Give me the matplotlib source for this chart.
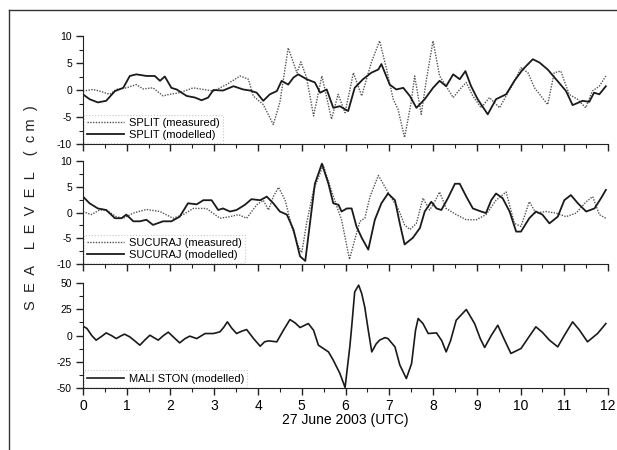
import matplotlib
matplotlib.use("Agg")
import matplotlib.pyplot as plt
from matplotlib.lines import Line2D

plt.rcParams['font.family'] = ['Liberation Sans', 'DejaVu Sans']
plt.rcParams['axes.unicode_minus'] = False

# SPLIT
split_mea_t = [0, 0.23, 0.38, 0.61, 0.76, 0.99, 1.22, 1.37, 1.6, 1.83, 1.98, 2.21, 2.52, 2.75, 2.98,
               3.28, 3.59, 3.78, 3.89, 4.12, 4.35, 4.5, 4.69, 4.89, 4.98, 5.11, 5.27, 5.46, 5.68, 5.83,
               5.99, 6.18, 6.37, 6.59, 6.78, 6.94, 7.09, 7.2, 7.35, 7.5, 7.58, 7.73, 7.85, 8.0, 8.15,
               8.3, 8.46, 8.61, 8.76, 8.91, 9.1, 9.29, 9.52, 9.67, 9.82, 10.01, 10.17, 10.32, 10.62,
               10.77, 10.92, 11.11, 11.3, 11.49, 11.64, 11.8, 11.95]
split_mea = [-0.2, 0.1, -0.2, -0.8, 0.1, 0.4, 1.0, 0.2, 0.4, -1.1, -0.8, -0.5, 0.4, 0.1, -0.2,
             1.0, 2.6, 2.0, -1.1, -2.7, -6.4, -2.3, 7.8, 3.2, 5.2, 2.3, -4.8, 2.6, -5.4, -0.8,
             -4.2, 3.2, -1.1, 5.1, 9.1, 3.8, -1.7, -3.6, -8.8, -2.3, 2.6, -4.5, 2.0, 9.1, 2.6,
             0.7, -1.4, 0.1, 1.4, -1.1, -3.3, -1.4, -3.3, -1.1, 1.0, 4.1, 3.2, 0.4, -2.7,
             3.2, 3.5, -0.8, -1.7, -3.3, -0.2, 0.7, 2.6]
split_mod_t = [0, 0.15, 0.34, 0.53, 0.73, 0.92, 1.07, 1.22, 1.45, 1.64, 1.76, 1.87, 2.02, 2.14, 2.37,
               2.56, 2.71, 2.86, 2.98, 3.2, 3.44, 3.66, 3.82, 3.97, 4.12, 4.27, 4.43, 4.54, 4.69, 4.81,
               4.92, 5.11, 5.3, 5.42, 5.57, 5.72, 5.87, 6.06, 6.21, 6.4, 6.59, 6.75, 6.82, 7.01, 7.16,
               7.32, 7.47, 7.62, 7.81, 8.0, 8.15, 8.3, 8.46, 8.61, 8.74, 8.87, 9.02, 9.25, 9.44, 9.67,
               9.86, 10.05, 10.28, 10.43, 10.62, 10.81, 11.04, 11.19, 11.42, 11.57, 11.68, 11.8, 11.95]
split_mod = [-0.8, -1.7, -2.3, -2.0, -0.2, 0.4, 2.6, 2.9, 2.6, 2.6, 1.7, 2.5, 0.4, 0.1, -1.1,
             -1.4, -1.9, -1.4, 0.0, -0.1, 0.7, 0.1, -0.1, -0.5, -2.0, -0.8, -0.2, 1.7, 1.0, 2.3,
             2.9, 2.0, 1.4, -0.5, 0.1, -3.3, -3.0, -3.9, 0.4, 2.0, 3.2, 3.8, 4.8, 1.0, 0.1,
             0.4, -1.1, -3.3, -1.7, 0.4, 1.7, 0.7, 2.9, 2.0, 3.5, 0.7, -1.7, -4.5, -1.7, -0.8,
             1.7, 3.8, 5.7, 5.1, 3.8, 2.0, -0.2, -2.8, -2.0, -2.2, -0.5, -0.8, 0.7]

# SUCURAJ
suc_mea_t = [0, 0.19, 0.38, 0.53, 0.76, 0.92, 1.15, 1.45, 1.76, 2.06, 2.29, 2.52, 2.82, 3.13, 3.36,
             3.55, 3.74, 3.97, 4.12, 4.24, 4.35, 4.47, 4.62, 4.77, 4.92, 5.0, 5.11, 5.27, 5.49, 5.65,
             5.8, 5.91, 6.09, 6.21, 6.33, 6.44, 6.56, 6.75, 6.9, 7.05, 7.2, 7.35, 7.47, 7.62, 7.77,
             7.92, 8.0, 8.15, 8.3, 8.53, 8.76, 8.99, 9.21, 9.44, 9.67, 9.86, 10.01, 10.2, 10.35,
             10.58, 10.81, 11.04, 11.27, 11.5, 11.65, 11.8, 11.95]
suc_mea = [0.2, -0.4, 0.5, 0.5, -0.8, -1.1, -0.1, 0.6, 0.2, -1.1, -0.4, 0.8, 0.8, -1.1, -0.8,
           -0.4, -1.1, 1.5, 2.4, 0.5, 3.1, 4.9, 2.4, -2.7, -6.5, -7.8, -2.1, 4.4, 9.2, 5.0,
           1.2, -1.4, -9.1, -5.3, -1.7, -1.1, 3.1, 7.2, 5.0, 2.8, 0.8, -2.4, -3.3, -2.1, 2.8,
           0.5, 1.5, 4.0, 0.8, -0.4, -1.4, -1.4, -0.4, 2.4, 4.0, -2.1, -2.7, 2.1, -0.1,
           0.2, -0.1, -0.8, -0.1, 2.1, 3.1, -0.4, -1.1]
suc_mod_t = [0, 0.15, 0.34, 0.53, 0.73, 0.88, 0.99, 1.15, 1.3, 1.45, 1.6, 1.83, 2.02, 2.21, 2.4,
             2.6, 2.75, 2.94, 3.09, 3.2, 3.36, 3.51, 3.7, 3.85, 4.05, 4.2, 4.35, 4.5, 4.66, 4.81,
             4.96, 5.08, 5.3, 5.46, 5.61, 5.72, 5.84, 5.91, 6.03, 6.14, 6.25, 6.37, 6.52, 6.67, 6.82,
             6.97, 7.13, 7.24, 7.35, 7.54, 7.7, 7.81, 7.96, 8.08, 8.19, 8.34, 8.5, 8.61, 8.76, 8.91,
             9.1, 9.21, 9.33, 9.44, 9.59, 9.75, 9.9, 10.01, 10.2, 10.35, 10.5, 10.66, 10.85, 11.0,
             11.15, 11.31, 11.5, 11.69, 11.84, 11.95]
suc_mod = [3.1, 1.8, 0.8, 0.5, -1.1, -1.1, -0.4, -1.7, -1.7, -1.4, -2.4, -1.7, -1.7, -0.8, 1.8,
           1.6, 2.4, 2.4, 0.5, 0.8, 0.2, 0.5, 1.5, 2.6, 2.4, 3.1, 1.8, 0.2, -0.4, -3.3,
           -8.5, -9.4, 5.6, 9.5, 5.6, 1.8, 1.5, 0.2, 0.8, 0.8, -2.7, -4.9, -7.2, -1.4, 1.8,
           3.7, 2.4, -2.1, -6.2, -4.9, -3.0, 0.2, 2.1, 0.8, 0.5, 2.8, 5.6, 5.6, 3.1, 0.8,
           0.2, -0.1, 2.4, 3.7, 2.8, 0.2, -3.7, -3.7, -1.1, 0.2, -0.4, -2.1, -0.8, 2.4,
           3.4, 1.8, 0.2, 0.8, 2.8, 4.4]

# MALI STON
ston_t = [0, 0.09, 0.2, 0.3, 0.42, 0.53, 0.65, 0.76, 0.86, 0.95, 1.07, 1.18, 1.3, 1.42, 1.53,
          1.62, 1.72, 1.84, 1.95, 2.08, 2.21, 2.33, 2.44, 2.6, 2.79, 2.98, 3.13, 3.22, 3.3, 3.4,
          3.51, 3.62, 3.74, 3.9, 4.05, 4.15, 4.24, 4.43, 4.58, 4.73, 4.85, 4.96, 5.15, 5.27, 5.38,
          5.61, 5.72, 5.87, 5.99, 6.1, 6.14, 6.21, 6.3, 6.37, 6.44, 6.52, 6.6, 6.7, 6.78, 6.9,
          6.97, 7.13, 7.24, 7.39, 7.51, 7.6, 7.66, 7.77, 7.89, 8.08, 8.2, 8.3, 8.4, 8.53, 8.76,
          8.95, 9.08, 9.18, 9.33, 9.48, 9.62, 9.78, 10.01, 10.18, 10.35, 10.5, 10.66, 10.85, 11.0,
          11.19, 11.35, 11.53, 11.76, 11.95]
ston = [8.9, 6.7, 0.0, -4.4, -1.0, 2.5, 0.0, -2.9, -0.5, 1.3, -1.3, -5.0, -9.2, -4.0, 0.3,
        -2.0, -4.4, 0.0, 3.2, -2.0, -7.0, -3.0, -0.6, -2.9, 1.9, 1.9, 3.5, 8.0, 13.0, 7.0,
        1.9, 4.0, 5.7, -3.0, -10.2, -6.0, -5.1, -6.0, 5.0, 15.2, 12.0, 7.6, 11.4, 5.0, -9.2,
        -15.6, -23.5, -36.0, -49.5, -10.0, 8.0, 41.6, 48.0, 40.0, 27.0, 5.0, -15.6, -8.0, -4.4, -2.0,
        -2.9, -10.8, -28.0, -41.0, -26.7, 5.0, 16.2, 11.4, 1.9, 2.5, -5.0, -15.6, -5.0, 14.6, 24.8,
        11.4, -3.0, -11.4, 0.0, 9.8, -3.0, -17.1, -12.4, -2.0, 8.3, 3.0, -4.4, -10.8, 0.0,
        13.0, 5.0, -6.0, 1.9, 11.4]

fig = plt.figure(figsize=(6.17, 4.5), dpi=100)

left, width = 0.1345, 0.851
ax1 = fig.add_axes([left, 0.68, width, 0.24])
ax2 = fig.add_axes([left, 0.4133, width, 0.2287])
ax3 = fig.add_axes([left, 0.1378, width, 0.2332])

ax1.plot(split_mea_t, split_mea, color='#555555', lw=1.0, ls=(0, (1, 1)), label='SPLIT (measured)')
ax1.plot(split_mod_t, split_mod, color='#1a1a1a', lw=1.3, label='SPLIT (modelled)')
ax2.plot(suc_mea_t, suc_mea, color='#555555', lw=1.0, ls=(0, (1, 1)), label='SUCURAJ (measured)')
ax2.plot(suc_mod_t, suc_mod, color='#1a1a1a', lw=1.3, label='SUCURAJ (modelled)')
ax3.plot(ston_t, ston, color='#1a1a1a', lw=1.2, label='MALI STON (modelled)')

for ax, lim, maj in [(ax1, 10, 5), (ax2, 10, 5), (ax3, 50, 25)]:
    ax.set_xlim(0, 12)
    ax.set_ylim(-lim, lim)
    ax.set_yticks(range(-lim, lim + 1, maj))
    ax.set_yticks([v * maj / 2 for v in range(-4, 5)], minor=True)
    ax.set_xticks(range(0, 13))
    ax.set_xticks([v + 0.5 for v in range(12)], minor=True)
    ax.spines['top'].set_visible(False)
    ax.spines['right'].set_visible(False)
    ax.spines['left'].set_color('#222222')
    ax.spines['bottom'].set_color('#222222')
    ax.tick_params(which='major', length=5, width=1.0, color='#222222', labelsize=7.5, pad=3)
    ax.tick_params(which='minor', length=3, width=0.8, color='#222222')
    ax.tick_params(axis='x', labelsize=10)
    ax.patch.set_alpha(0)
    leg = ax.legend(loc='lower left', fontsize=8, frameon=True, fancybox=False,
                    handlelength=3.3, borderaxespad=0.1, borderpad=0.3, labelspacing=0.15,
                    handletextpad=0.4)
    leg.get_frame().set_edgecolor('#bbbbbb')
    leg.get_frame().set_linestyle(':')
    leg.get_frame().set_linewidth(0.8)

ax1.tick_params(axis='x', labelbottom=False)
ax2.tick_params(axis='x', labelbottom=False)
ax3.set_xlabel('27 June 2003 (UTC)', fontsize=10, labelpad=0)

fig.text(0.05, 0.538, 'S  E  A    L  E  V  E  L    (  c m  )', rotation=90, fontsize=10.5,
         ha='center', va='center', color='#222222')

# scan frame
fig.add_artist(Line2D([0.0146, 0.0146], [0.0, 0.978], transform=fig.transFigure, color='#333333', lw=1.0))
fig.add_artist(Line2D([0.0146, 1.0], [0.978, 0.978], transform=fig.transFigure, color='#333333', lw=1.0))

fig.savefig('out.png', dpi=100)
